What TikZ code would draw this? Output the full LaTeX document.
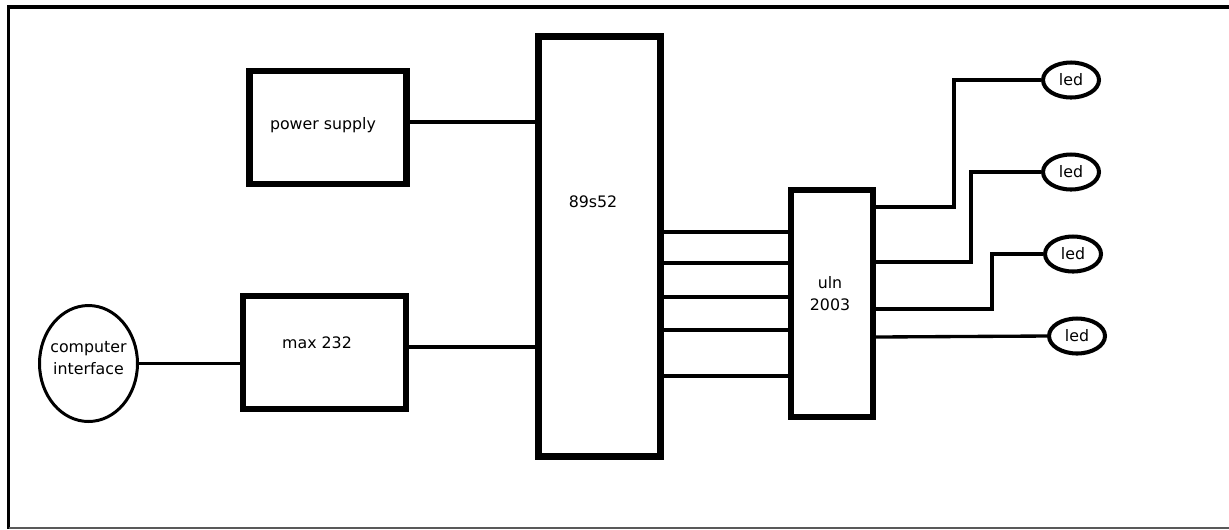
\documentclass[tikz,border=0pt]{standalone}
\usepackage{fontspec}
\setmainfont{DejaVu Sans}
\usetikzlibrary{calc,shapes.geometric}

\begin{document}
\begin{tikzpicture}[x=0.02cm,y=-0.02cm,font=\fontsize{9}{12.5}\selectfont,
		blk/.style={draw,line width=3.6pt,inner sep=0pt},
		wire/.style={line width=1.9pt},
		led/.style={draw,ellipse,line width=2.3pt,inner sep=0pt,minimum width=1.12cm,minimum height=0.7cm}]
		\useasboundingbox (0,0) rectangle (1229,529);
		\draw[line width=1.9pt] (1229,7) -- (8.5,7) -- (8.5,529);
		\draw[black!65,line width=0.9pt] (8.5,527.8) -- (1229,527.8);
		\node[blk,minimum width=3.14cm,minimum height=2.26cm,label={[shift={(-5,-2.5)}]center:power supply}] (psu) at (328,127.5) {};
		\node[blk,minimum width=3.26cm,minimum height=2.26cm,label={[shift={(-7.5,-9.5)}]center:max 232}] (max) at (324.5,352.5) {};
		\node[blk,line width=4pt,minimum width=2.44cm,minimum height=8.4cm,label={[shift={(-6.5,-44.5)}]center:89s52}] (mcu) at (599.5,246.5) {};
		\node[blk,minimum width=1.64cm,minimum height=4.54cm,label={[shift={(-2,-9.5)},align=center]center:uln\\2003}] (uln) at (832,303.5) {};
		\node[draw,ellipse,line width=1.7pt,inner sep=0pt,minimum width=1.96cm,minimum height=2.32cm,label={[shift={(0,-5)},align=center]center:computer\\interface}] (pc) at (88.5,363.5) {};
		\node[led] (l1) at (1071,80) {led};
		\node[led] (l2) at (1071,172) {led};
		\node[led] (l3) at (1073,254) {led};
		\node[led] (l4) at (1077,336) {led};
		\coordinate (psuout) at ($(psu.east)+(0,-5.5)$);
		\coordinate (maxout) at ($(max.east)+(0,-5.5)$);
		\draw[wire] (pc.east) -- (pc.east -| max.west);
		\draw[wire] (psuout) -- (psuout -| mcu.west);
		\draw[wire] (maxout) -- (maxout -| mcu.west);
		\foreach \y in {232,263,297,330,376}
			\draw[wire] (mcu.east |- 0,\y) -- (uln.west |- 0,\y);
		\draw[wire] (uln.east |- 0,207) -- (954,207) |- (l1.west);
		\draw[wire] (uln.east |- 0,262) -- (971,262) |- (l2.west);
		\draw[wire] (uln.east |- 0,309) -- (992,309) |- (l3.west);
		\draw[wire] (uln.east |- 0,337) -- (l4.west);
	\end{tikzpicture}
\end{document}
